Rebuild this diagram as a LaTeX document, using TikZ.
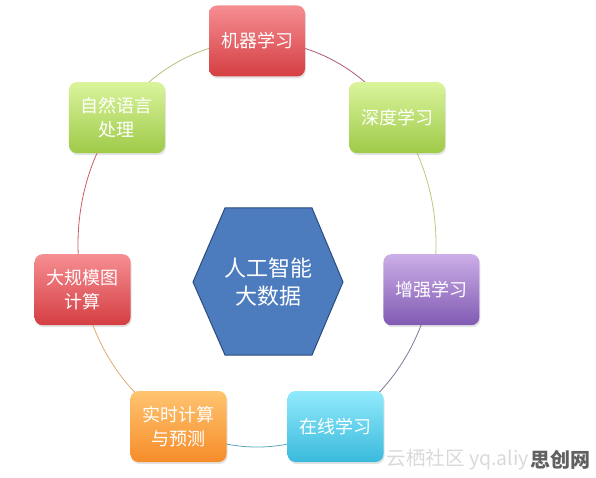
\documentclass[tikz,border=0pt]{standalone}
\usepackage{fontspec}
\setmainfont{Noto Sans CJK SC}
\usetikzlibrary{shadows,backgrounds}
\definecolor{redtop}{RGB}{246,142,146}
\definecolor{redbot}{RGB}{212,62,66}
\definecolor{greentop}{RGB}{218,244,156}
\definecolor{greenbot}{RGB}{158,202,72}
\definecolor{purpletop}{RGB}{204,174,232}
\definecolor{purplebot}{RGB}{128,90,178}
\definecolor{cyantop}{RGB}{146,234,252}
\definecolor{cyanbot}{RGB}{58,186,220}
\definecolor{orangetop}{RGB}{255,196,112}
\definecolor{orangebot}{RGB}{246,140,42}
\definecolor{hubfill}{RGB}{76,124,190}
\definecolor{hubline}{RGB}{44,76,128}
\begin{document}
\begin{tikzpicture}[
  x=1pt, y=1pt,
  box/.style={rectangle, rounded corners=8pt, minimum width=96pt, minimum height=71pt,
    inner sep=2pt, align=center, text=white, font=\fontsize{18}{24}\selectfont,
    drop shadow={opacity=0.22, shadow xshift=1pt, shadow yshift=-2pt}},
  redbox/.style={box, top color=redtop, bottom color=redbot},
  greenbox/.style={box, top color=greentop, bottom color=greenbot},
  purplebox/.style={box, top color=purpletop, bottom color=purplebot},
  cyanbox/.style={box, top color=cyantop, bottom color=cyanbot},
  orangebox/.style={box, top color=orangetop, bottom color=orangebot},
  hub/.style={fill=hubfill, draw=hubline, line width=1pt},
  hubtext/.style={align=center, text=white, font=\fontsize{22}{28}\selectfont},
  ring/.style={line width=0.8pt}
]
  \useasboundingbox (0,0) rectangle (596,477);

  % Centre.
  \draw[hub] (193,195) -- (225,269) -- (312,269) -- (343,195)
    -- (312,122) -- (225,122) -- cycle;
  \node[hubtext] (core) at (268,195) {人工智能\\大数据};

  % Topics round the ring.
  \node[redbox] (ml) at (257,436) {机器学习};
  \node[greenbox] (dl) at (397.1,359.4) {深度学习};
  \node[purplebox] (rl) at (431.4,187.3) {增强学习};
  \node[cyanbox] (ol) at (335.5,50.5) {在线学习};
  \node[orangebox] (rt) at (178.5,50.5) {实时计算\\与预测};
  \node[redbox] (gc) at (82.6,187.3) {大规模图\\计算};
  \node[greenbox] (nlp) at (116.9,359.4) {自然语言\\处理};

  % Ring.
  \begin{scope}[on background layer]
    \foreach \n/\a/\b/\c in {ml/90/38.5/{rgb,255:red,172;green,88;blue,122},
        dl/38.5/-13/{rgb,255:red,184;green,202;blue,124},
        rl/-13/-64/{rgb,255:red,128;green,118;blue,152},
        ol/-64/-116/{rgb,255:red,88;green,168;blue,188},
        rt/-116/-167/{rgb,255:red,222;green,172;blue,112},
        gc/193/141.5/{rgb,255:red,202;green,92;blue,104},
        nlp/141.5/90/{rgb,255:red,184;green,190;blue,122}}{
      \draw[ring, draw=\c] (\n.center) arc[start angle=\a, end angle=\b,
        x radius=179, y radius=203];
    }
  \end{scope}

  % Watermark.
  \node[text=black!15, font=\fontsize{19.5}{19.5}\selectfont, anchor=east, inner sep=1pt] (wm) at (530,17) {云栖社区 yq.aliy};
  \node[text=black!62, font=\bfseries\fontsize{20}{20}\selectfont, anchor=west, inner sep=0pt] (wm2) at (wm.east) {思创网};
\end{tikzpicture}
\end{document}
